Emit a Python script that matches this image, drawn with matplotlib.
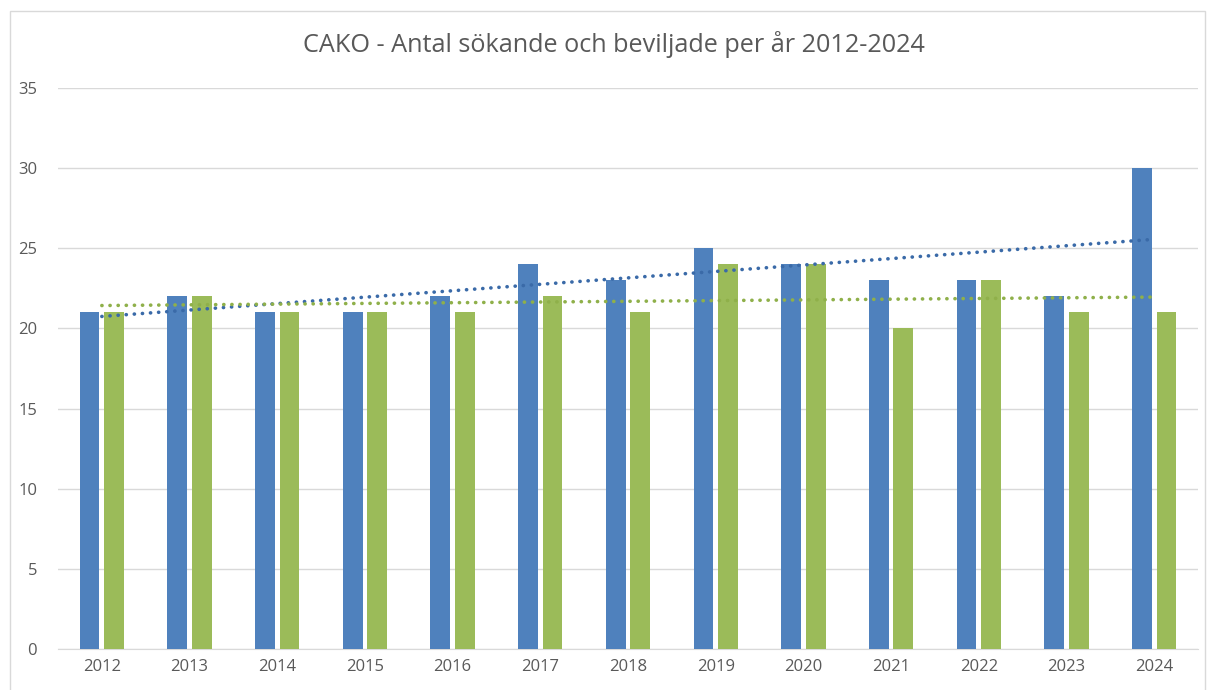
import matplotlib
matplotlib.use('Agg')
import matplotlib.pyplot as plt
import numpy as np
from matplotlib.patches import Rectangle

# data
years = ['2012', '2013', '2014', '2015', '2016', '2017', '2018',
         '2019', '2020', '2021', '2022', '2023', '2024']
sokande = [21, 22, 21, 21, 22, 24, 23, 25, 24, 23, 23, 22, 30]
beviljade = [21, 22, 21, 21, 21, 22, 21, 24, 24, 20, 23, 21, 21]

plt.rcParams['font.family'] = ['Open Sans', 'DejaVu Sans']

BLUE = '#4f81bd'
GREEN = '#9bbb59'
TEXT = '#595959'

fig = plt.figure(figsize=(12.15, 6.9), dpi=100)
ax = fig.add_axes([58 / 1215, 1 - 649 / 690, 1140 / 1215, 561 / 690])

x = np.arange(len(years))
w = 0.225
off = 0.14
ax.bar(x - off, sokande, width=w, color=BLUE, zorder=3)
ax.bar(x + off, beviljade, width=w, color=GREEN, zorder=3)

# linear trend lines (Excel style, round dots)
for vals, col in [(sokande, '#3a6aa8'), (beviljade, '#8fb04a')]:
    k, m = np.polyfit(x, vals, 1)
    ax.plot(x, k * x + m, linestyle=(0, (0.05, 2.2)), color=col, lw=2.6,
            dash_capstyle='round', zorder=4)

ax.set_xlim(-0.5, len(years) - 0.5)
ax.set_ylim(0, 35)
ax.set_yticks(range(0, 36, 5))
ax.set_xticks(x)
ax.set_xticklabels(years)
ax.yaxis.grid(True, color='#d9d9d9', lw=1)
ax.set_axisbelow(True)
for s in ['top', 'right', 'left']:
    ax.spines[s].set_visible(False)
ax.spines['bottom'].set_color('#d9d9d9')
ax.tick_params(axis='both', length=0, labelsize=12, labelcolor=TEXT)
ax.tick_params(axis='y', pad=15)
ax.tick_params(axis='x', pad=7)

fig.text(614 / 1215, 1 - 45 / 690, 'CAKO - Antal sökande och beviljade per år 2012-2024',
         ha='center', va='center', fontsize=18.2, color=TEXT)

# chart frame
fig.patches.append(Rectangle((10 / 1215, -0.05), 1195 / 1215, 1 - 11 / 690 + 0.05,
                             transform=fig.transFigure, fill=False,
                             edgecolor='#d9d9d9', lw=1))

fig.savefig('out.png', dpi=100)
